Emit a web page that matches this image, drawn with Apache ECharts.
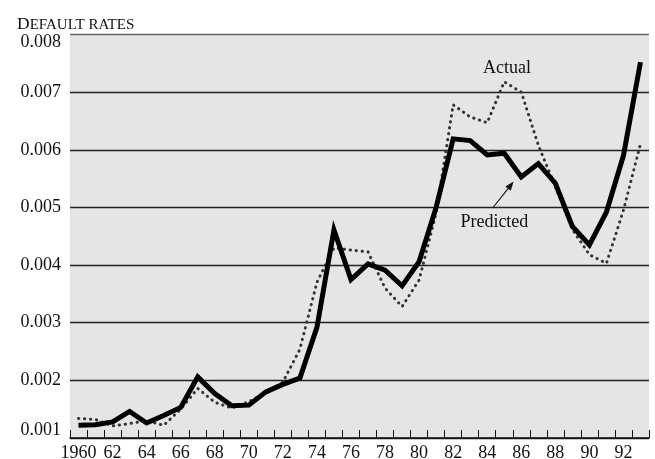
<!DOCTYPE html>
<html>
<head>
<meta charset="utf-8">
<script src="https://cdn.jsdelivr.net/npm/echarts@6/dist/echarts.min.js"></script>
<style>
html,body{margin:0;padding:0;background:#fff;}
#c{width:655px;height:459px;}
</style>
</head>
<body>
<div id="c"></div>
<script>
// ---- data ----
const years = ['1960','1961','1962','1963','1964','1965','1966','1967','1968','1969',
               '1970','1971','1972','1973','1974','1975','1976','1977','1978','1979',
               '1980','1981','1982','1983','1984','1985','1986','1987','1988','1989',
               '1990','1991','1992','1993'];

const predictedRates = [0.00122,0.00123,0.00128,0.00146,0.00126,0.00139,0.00153,0.00206,0.00177,0.00156,
                        0.00157,0.00180,0.00193,0.00204,0.00292,0.00461,0.00375,0.00402,0.00391,0.00364,
                        0.00406,0.00500,0.00619,0.00616,0.00591,0.00594,0.00553,0.00576,0.00542,0.00467,
                        0.00435,0.00492,0.00590,0.00752];

const actualRates = [0.00134,0.00132,0.00121,0.00125,0.00130,0.00122,0.00150,0.00186,0.00162,0.00152,
                     0.00163,0.00178,0.00197,0.00254,0.00370,0.00430,0.00426,0.00423,0.00360,0.00328,
                     0.00374,0.00490,0.00678,0.00657,0.00647,0.00718,0.00700,0.00608,0.00536,0.00462,
                     0.00418,0.00403,0.00495,0.00610];

const yMin = 0.001, yMax = 0.008, yStep = 0.001;
const titleText = 'Default rates';
const actualLabel = 'Actual';
const predictedLabel = 'Predicted';

// ---- chart ----
const serif = '"Liberation Serif", "Times New Roman", serif';
const ink = '#111';
const fs = 18;
const chart = echarts.init(document.getElementById('c'), null, {renderer: 'canvas'});

const option = {
  animation: false,
  backgroundColor: '#ffffff',
  title: {
    left: 12, top: 11,
    text: '{big|' + titleText.charAt(0).toUpperCase() + '}{small|' + titleText.slice(1).toUpperCase() + '}',
    textStyle: {
      fontWeight: 'normal',
      rich: {
        big: {fontFamily: serif, fontSize: 17.5, fontWeight: 'normal', color: ink, verticalAlign: 'bottom', lineHeight: 17},
        small: {fontFamily: serif, fontSize: 15, fontWeight: 'normal', color: ink, verticalAlign: 'bottom', lineHeight: 17}
      }
    }
  },
  grid: {
    left: 70, right: 6, top: 34.5, bottom: 21,
    show: true, backgroundColor: '#e5e5e5', borderWidth: 0,
    containLabel: false, outerBoundsMode: 'none'
  },
  xAxis: {
    type: 'category',
    data: years,
    boundaryGap: true,
    axisLine: {show: true, lineStyle: {color: ink, width: 1.5}},
    axisTick: {show: true, inside: true, length: 8, interval: 0, lineStyle: {color: ink, width: 1}},
    axisLabel: {
      interval: 1, margin: 6,
      fontFamily: serif, fontSize: fs, color: ink,
      formatter: (v, i) => i === 0 ? v : v.slice(2)
    },
    splitLine: {show: false}
  },
  yAxis: {
    type: 'value',
    min: yMin, max: yMax, interval: yStep,
    axisLine: {show: false},
    axisTick: {show: false},
    axisLabel: {
      margin: 9,
      fontFamily: serif, fontSize: fs, color: ink,
      formatter: v => {
        const s = v.toFixed(3);
        if (Math.abs(v - yMax) < 1e-9) return '{hi|' + s + '}';
        if (Math.abs(v - yMin) < 1e-9) return '{lo|' + s + '}';
        return s;
      },
      rich: {
        hi: {fontFamily: serif, fontSize: fs, color: ink, padding: [15,0,0,0]},
        lo: {fontFamily: serif, fontSize: fs, color: ink, padding: [0,0,15,0]}
      }
    },
    splitLine: {
      show: true,
      lineStyle: {color: ['#222','#222','#222','#222','#222','#222','#222','#6a6a6a'], width: 1.4}
    }
  },
  series: [
    {
      name: actualLabel,
      type: 'line',
      data: actualRates,
      symbol: 'none',
      silent: true,
      z: 2,
      lineStyle: {color: '#333', width: 3, type: [0.3, 5.7], cap: 'round', join: 'round'}
    },
    {
      name: predictedLabel,
      type: 'line',
      data: predictedRates,
      symbol: 'none',
      silent: true,
      z: 3,
      lineStyle: {color: '#000', width: 5, type: 'solid', cap: 'butt', join: 'miter'}
    }
  ]
};
chart.setOption(option);

// ---- annotations, anchored in data space ----
function toPx(idx, val) {
  const i0 = Math.floor(idx), f = idx - i0;
  const a = chart.convertToPixel({gridIndex: 0}, [i0, val]);
  const b = chart.convertToPixel({gridIndex: 0}, [i0 + 1, val]);
  return [a[0] + f * (b[0] - a[0]), a[1]];
}
const pActual = toPx(25.16, 0.00742);
const pPred = toPx(24.42, 0.00475);
const aFrom = toPx(24.32, 0.00499);
const aTo = toPx(25.55, 0.00545);
const dx = aTo[0] - aFrom[0], dy = aTo[1] - aFrom[1];
const len = Math.hypot(dx, dy), ux = dx / len, uy = dy / len;
const headL = 9, headW = 3.4;
const base = [aTo[0] - ux * headL, aTo[1] - uy * headL];
const head = [
  aTo,
  [base[0] - uy * headW, base[1] + ux * headW],
  [base[0] + uy * headW, base[1] - ux * headW]
];

chart.setOption({
  graphic: [
    {type: 'text', x: pActual[0], y: pActual[1], silent: true,
     style: {text: actualLabel, fontFamily: serif, fontSize: fs, fill: ink, align: 'center', verticalAlign: 'middle'}},
    {type: 'text', x: pPred[0], y: pPred[1], silent: true,
     style: {text: predictedLabel, fontFamily: serif, fontSize: fs, fill: ink, align: 'center', verticalAlign: 'middle'}},
    {type: 'line', silent: true,
     shape: {x1: aFrom[0], y1: aFrom[1], x2: base[0], y2: base[1]},
     style: {stroke: ink, lineWidth: 1.1}},
    {type: 'polygon', silent: true, shape: {points: head}, style: {fill: ink}}
  ]
});
</script>
</body>
</html>
